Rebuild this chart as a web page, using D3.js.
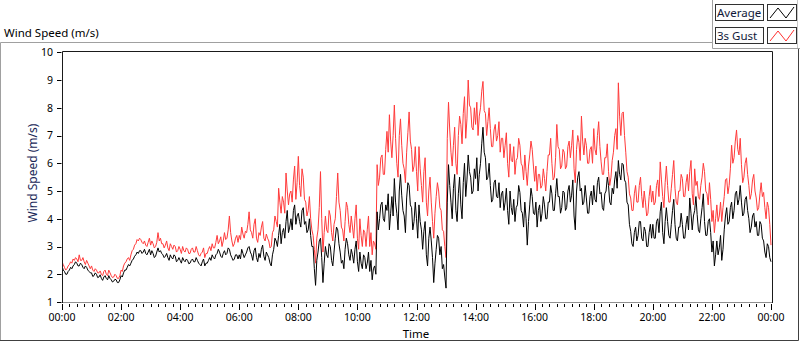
<!DOCTYPE html>
<html>
<head>
<meta charset="utf-8">
<script src="https://cdn.jsdelivr.net/npm/d3@7"></script>
<style>
body{margin:0;background:#fff;}
text{font-family:"Noto Sans",sans-serif;}
</style>
</head>
<body>
<div id="viz-container"></div>
<script>

// one value every 2.5 minutes, 00:00 .. 24:00 (one row per hour)
let average = [
2.3,2.15,2.1,2.0,2.0,2.1,2.15,2.25,2.2,2.3,2.35,2.45,2.4,2.3,2.3,2.4,2.35,2.25,2.2,2.3,2.25,2.15,2.1,2.05,
2.05,1.92,1.95,2.05,2.0,1.88,1.9,1.98,1.85,1.78,1.9,1.95,1.85,1.8,1.95,1.85,1.8,1.72,1.75,1.82,1.8,1.7,1.7,1.8,
1.95,1.9,2.05,2.15,2.15,2.25,2.35,2.3,2.4,2.5,2.55,2.65,2.7,2.8,2.75,2.85,2.85,2.75,2.8,2.9,2.75,2.7,2.8,2.9,
2.7,2.85,2.75,2.6,2.65,2.8,2.95,2.8,2.85,2.75,2.7,2.6,2.65,2.75,2.6,2.5,2.7,2.6,2.55,2.7,2.65,2.45,2.5,2.6,
2.5,2.4,2.6,2.5,2.45,2.55,2.5,2.38,2.4,2.5,2.55,2.45,2.45,2.6,2.5,2.4,2.35,2.3,2.45,2.55,2.3,2.4,2.4,2.5,
2.6,2.5,2.7,2.6,2.55,2.7,2.75,2.9,2.8,2.65,2.6,2.75,2.85,2.7,2.75,2.95,2.9,2.7,2.6,2.5,2.55,2.7,2.7,2.55,
2.7,2.55,2.9,2.75,2.6,2.7,2.8,2.95,3.0,2.8,2.7,2.5,2.85,2.95,2.6,2.45,2.75,2.6,2.9,3.05,2.65,2.5,2.8,2.7,
2.6,2.4,2.3,2.7,2.9,3.3,3.2,3.0,3.4,3.8,3.1,3.5,3.65,3.3,3.9,4.3,3.5,3.7,4.0,3.6,4.3,4.5,3.8,4.1,
4.2,3.9,3.7,4.3,4.4,3.8,3.9,3.5,3.6,4.0,3.4,3.0,3.0,2.2,1.6,2.5,2.8,3.2,3.3,2.6,1.7,2.4,3.0,2.7,
2.6,3.1,3.0,2.5,2.3,2.8,3.3,3.7,3.6,3.1,2.8,2.4,2.5,2.2,2.9,3.3,3.1,2.7,2.5,2.9,2.7,2.4,2.9,3.2,
2.45,2.1,2.8,2.4,2.2,2.7,2.6,2.2,2.4,2.8,2.1,2.5,1.8,2.2,2.3,2.0,4.25,3.6,4.0,4.5,4.6,4.0,3.9,4.5,
4.3,4.9,3.6,4.2,4.8,4.1,5.45,4.6,4.2,3.6,5.0,5.6,4.85,4.3,4.1,3.5,4.75,5.3,5.2,4.5,4.4,3.6,3.9,4.6,
4.0,3.3,4.5,3.9,3.6,2.9,3.55,3.9,2.7,2.3,3.3,3.7,3.2,2.6,1.7,2.4,2.9,3.4,3.3,2.7,3.0,2.2,2.35,1.9,
1.5,4.6,5.95,5.2,4.6,4.0,5.1,5.6,4.3,3.9,4.9,5.5,4.5,4.0,5.3,6.0,4.8,5.4,6.3,5.7,5.5,4.9,5.0,5.8,
5.45,6.2,5.0,5.6,6.0,6.7,7.3,6.4,6.2,5.4,5.5,6.0,5.2,4.6,4.7,5.3,5.4,4.8,4.75,5.3,4.4,4.9,5.0,4.3,
4.6,5.1,4.3,3.8,5.0,4.4,4.15,4.7,3.9,4.4,4.5,5.2,4.95,4.3,4.2,3.7,4.6,4.0,3.05,3.9,4.5,5.1,4.8,4.2,
4.15,4.6,3.7,4.3,4.5,3.9,4.2,4.8,4.5,4.0,4.0,4.6,4.6,5.2,4.9,4.3,4.3,4.9,5.45,4.8,4.8,4.2,4.4,5.0,
4.95,4.3,4.4,5.0,5.2,4.6,4.85,5.4,4.1,3.6,5.0,5.5,5.7,5.0,5.1,4.5,4.6,5.2,4.75,4.2,4.2,4.8,5.0,4.5,
5.2,4.7,4.6,5.3,5.5,4.9,4.95,4.4,4.3,4.9,5.0,5.5,5.2,4.6,4.5,5.1,4.9,5.4,5.7,5.1,6.1,5.6,5.4,6.0,
5.95,5.4,5.3,4.6,4.5,3.8,3.55,3.1,3.0,3.5,3.7,3.2,3.4,3.9,3.9,3.3,3.2,3.7,3.55,3.0,3.0,3.5,3.8,3.3,
3.8,3.3,3.3,3.9,4.0,3.5,4.25,4.6,3.5,3.1,3.9,4.4,3.9,3.4,3.3,3.8,4.3,4.7,3.8,3.3,3.2,3.7,3.7,4.2,
3.8,3.3,3.3,3.8,4.1,3.6,4.75,4.2,3.6,4.1,4.3,4.8,4.15,3.6,3.5,4.0,4.4,4.9,3.9,3.4,3.4,3.9,4.0,3.5,
2.8,3.2,2.3,2.7,3.2,2.7,2.95,3.4,2.5,2.9,3.6,4.1,4.4,3.8,3.9,4.4,4.6,4.0,4.3,4.9,5.0,4.5,4.7,5.2,
4.6,4.1,4.2,4.7,4.8,4.3,4.0,3.5,3.7,4.1,4.2,3.7,3.9,3.4,3.4,3.9,3.8,3.3,3.2,2.8,2.6,3.1,3.0,2.6,
2.45
];

let gust = [
2.45,2.35,2.25,2.15,2.2,2.3,2.35,2.45,2.4,2.55,2.5,2.6,2.55,2.45,2.7,2.5,2.5,2.6,2.45,2.35,2.5,2.4,2.3,2.2,
2.3,2.15,2.1,2.2,2.15,2.05,2.05,2.12,2.0,1.95,2.1,2.15,2.0,1.95,2.15,2.05,1.95,1.88,1.9,2.0,1.95,1.85,1.85,1.95,
2.15,2.1,2.3,2.4,2.45,2.55,2.6,2.5,2.7,2.85,2.9,3.05,3.1,3.25,3.2,3.3,3.25,3.15,3.1,3.2,3.05,3.0,3.15,3.3,
3.05,3.2,3.1,2.95,3.0,3.15,3.5,3.2,3.3,3.1,3.1,2.95,3.05,3.2,2.95,2.85,3.1,3.0,2.9,3.05,3.0,2.8,2.85,3.0,
2.9,2.75,3.0,2.85,2.8,2.95,2.9,2.75,2.75,2.9,2.95,2.8,2.8,3.0,2.85,2.7,2.65,2.75,2.8,2.95,2.6,2.75,2.75,2.9,
3.0,2.85,3.1,2.95,2.95,3.15,3.4,3.1,3.2,3.35,3.0,3.2,3.5,3.25,3.3,3.6,4.1,3.5,3.2,3.0,3.1,3.3,3.4,3.15,
3.4,3.25,3.7,3.45,3.3,3.55,3.5,3.8,4.25,3.6,3.5,3.3,3.8,4.0,3.3,3.15,3.5,3.4,3.7,3.9,3.3,3.2,3.45,3.3,
3.2,2.95,3.0,3.5,3.6,4.1,3.9,3.7,5.1,4.6,4.2,4.8,4.6,4.2,5.65,5.0,4.5,4.9,5.0,4.6,5.4,5.9,4.7,5.3,
6.25,5.2,4.8,5.8,5.5,4.7,4.6,4.1,4.3,4.8,4.0,3.6,3.4,2.9,2.4,3.3,3.6,4.4,5.7,4.0,2.8,3.5,4.1,3.6,
3.5,4.3,4.1,3.5,3.2,3.8,4.0,4.8,5.65,4.6,4.3,3.7,3.6,3.2,3.9,4.6,4.4,3.8,3.5,4.1,3.7,3.3,4.0,4.5,
3.3,2.9,4.0,3.4,3.0,3.6,3.5,3.0,3.6,4.1,3.0,3.5,2.7,3.2,3.1,2.9,5.95,5.2,5.5,6.2,6.3,5.6,5.6,6.5,
7.15,6.4,7.75,6.8,6.2,7.0,8.1,6.9,6.0,5.5,7.0,7.6,6.65,6.0,5.8,5.3,6.4,7.1,7.85,6.8,6.5,5.7,5.9,6.6,
5.7,5.0,6.6,5.8,5.2,4.6,5.7,6.2,4.6,4.1,5.0,5.5,4.6,3.9,3.3,4.2,4.8,5.3,5.0,4.4,4.3,3.6,3.55,3.0,
2.6,6.9,8.2,7.2,6.4,5.9,6.65,7.3,6.0,5.6,7.0,7.7,7.4,6.7,7.8,8.4,6.9,7.6,9.0,8.1,8.0,7.3,7.2,8.0,
7.4,8.2,7.0,7.7,8.0,8.6,8.95,7.9,7.8,7.0,7.5,8.0,7.25,6.6,6.6,7.2,7.4,6.8,7.0,7.5,6.4,6.9,6.9,6.2,
6.65,7.1,6.0,5.5,6.7,6.1,6.05,6.6,5.6,6.1,6.2,6.9,6.65,6.0,5.9,5.4,6.3,5.7,5.2,5.9,6.3,6.8,6.5,5.9,
5.35,5.9,5.0,5.6,5.6,5.1,5.2,5.8,5.45,5.0,5.7,6.3,6.3,6.9,6.0,5.4,5.5,6.2,7.4,6.6,6.5,5.8,5.9,6.5,
6.4,5.8,5.9,6.6,6.8,6.2,6.65,7.2,5.8,5.3,6.5,7.0,6.75,6.1,7.7,6.8,6.3,6.9,6.65,6.0,6.0,6.5,6.6,6.0,
7.25,6.5,6.3,7.0,7.5,6.6,6.05,5.6,5.6,6.2,6.2,6.7,5.7,5.2,5.5,6.1,6.4,7.0,7.25,6.5,8.9,7.7,7.0,7.8,
7.85,7.0,6.4,5.7,5.5,4.9,4.75,4.3,4.3,4.9,5.2,4.6,4.6,5.2,5.5,4.8,4.4,5.0,4.6,4.1,4.2,4.8,5.2,4.6,
5.0,4.5,4.6,5.2,5.4,4.8,6.05,5.4,4.8,4.4,5.3,5.9,5.2,4.6,4.6,5.1,5.6,6.1,5.1,4.6,4.5,5.0,5.0,5.6,
5.45,4.8,4.8,5.3,5.6,5.0,5.7,6.1,4.9,4.5,5.8,5.2,5.35,4.8,4.7,5.2,5.5,6.0,5.7,5.0,4.9,4.5,5.3,4.7,
3.9,4.3,3.5,4.0,4.5,3.9,4.1,4.6,3.9,4.4,4.8,5.4,5.45,4.9,5.2,5.8,6.65,6.0,6.2,6.8,7.2,6.5,6.3,6.9,
5.95,5.3,5.5,6.0,6.2,5.6,5.2,4.7,4.9,5.4,5.6,5.0,4.75,4.3,4.4,4.9,5.3,4.8,4.95,4.4,4.0,4.6,4.4,3.8,
3.05
];

let stepMinutes = 2.5;
let yTicks = [1,2,3,4,5,6,7,8,9,10];
let xMajorHours = [0,2,4,6,8,10,12,14,16,18,20,22,24];
let xLabels = ["00:00","02:00","04:00","06:00","08:00","10:00","12:00","14:00","16:00","18:00","20:00","22:00","00:00"];
let seriesNames = ["Average","3s Gust"];

let viz = d3.select("#viz-container")
    .append("svg")
        .attr("width", 800)
        .attr("height", 342)
        .style("display","block");

let x = d3.scaleLinear().domain([0,24]).range([62,771]);
let y = d3.scaleLinear().domain([1,10]).range([302,52.3]);

// outer frame
viz.append("path").attr("d","M0.5,340 V42.5 H712").attr("fill","none").attr("stroke","#a0a0a0");
viz.append("path").attr("d","M0,340.5 H798.5 V48").attr("fill","none").attr("stroke","#404040");

// title
viz.append("text").text("Wind Speed (m/s)")
    .attr("x",4).attr("y",36.7)
    .attr("font-size","11.5px").attr("fill","#000");

// legend
let legend = viz.append("g");
legend.append("path").attr("d","M712.5,0 V48.5 H800").attr("fill","none").attr("stroke","#a0a0a0");
legend.append("path").attr("d","M797.5,0 V48").attr("fill","none").attr("stroke","#c8c8c8");
let rows = legend.selectAll(".row").data(seriesNames).enter().append("g")
    .attr("class","row")
    .attr("transform",function(d,i){ return "translate(0,"+(i*23)+")"; });
rows.append("rect").attr("x",715.5).attr("y",4.5).attr("width",48).attr("height",16)
    .attr("fill","#fdfdfd").attr("stroke","#303030");
rows.append("text").text(function(d){ return d; })
    .attr("x",717).attr("y",17).attr("font-size","11.5px").attr("fill","#101838");
rows.append("rect").attr("x",767.5).attr("y",4.5).attr("width",29).attr("height",16)
    .attr("fill","#fff").attr("stroke","#303030");
rows.append("path").attr("d","M770,18 L778,8 L786,18 L794,7")
    .attr("fill","none")
    .attr("stroke",function(d,i){ return i==0 ? "#000" : "#ff3030"; });

// plot clip
viz.append("clipPath").attr("id","plotclip")
    .append("rect").attr("x",62).attr("y",51).attr("width",710).attr("height",252);

let line = d3.line()
    .x(function(d,i){ return x(i*stepMinutes/60); })
    .y(function(d){ return y(d); });

let plot = viz.append("g").attr("clip-path","url(#plotclip)");
plot.append("path").datum(gust).attr("d",line)
    .attr("fill","none").attr("stroke","#ff3a3a").attr("stroke-width",1);
plot.append("path").datum(average).attr("d",line)
    .attr("fill","none").attr("stroke","#000").attr("stroke-width",1);

// plot border
viz.append("path").attr("d","M62,302.5 H772.5").attr("stroke","#909090").attr("fill","none");
viz.append("path").attr("d","M62.5,303 V51.5 H772.5 V303").attr("stroke","#1a1a1a").attr("fill","none");

// y axis ticks
viz.selectAll(".ytick").data(yTicks).enter().append("line")
    .attr("class","ytick")
    .attr("x1",57).attr("x2",61.5)
    .attr("y1",function(d){ return Math.round(y(d))+0.5; })
    .attr("y2",function(d){ return Math.round(y(d))+0.5; })
    .attr("stroke","#000");
viz.selectAll(".ylab").data(yTicks).enter().append("text")
    .attr("class","ylab")
    .text(function(d){ return d; })
    .attr("x",53).attr("y",function(d){ return y(d)+3.8; })
    .attr("text-anchor","end").attr("font-size","10.5px").attr("fill","#000");

// x axis ticks
let minor = d3.range(0,24.01,0.25);
viz.selectAll(".xminor").data(minor).enter().append("line")
    .attr("class","xminor")
    .attr("x1",function(d){ return Math.round(x(d))+0.5; })
    .attr("x2",function(d){ return Math.round(x(d))+0.5; })
    .attr("y1",304).attr("y2",function(d){ return d%2==0 ? 310 : 307; })
    .attr("stroke","#000");
viz.selectAll(".xlab").data(xMajorHours).enter().append("text")
    .attr("class","xlab")
    .text(function(d,i){ return xLabels[i]; })
    .attr("x",function(d){ return x(d); }).attr("y",320.7)
    .attr("text-anchor","middle").attr("font-size","10.5px").attr("fill","#000");

// axis names
viz.append("text").text("Time")
    .attr("x",416).attr("y",338)
    .attr("text-anchor","middle").attr("font-size","11.5px").attr("fill","#000");
viz.append("text").text("Wind Speed (m/s)")
    .attr("transform","translate(37,173) rotate(-90)")
    .attr("text-anchor","middle").attr("font-size","12px").attr("fill","#1a2858");

</script>
</body>
</html>
